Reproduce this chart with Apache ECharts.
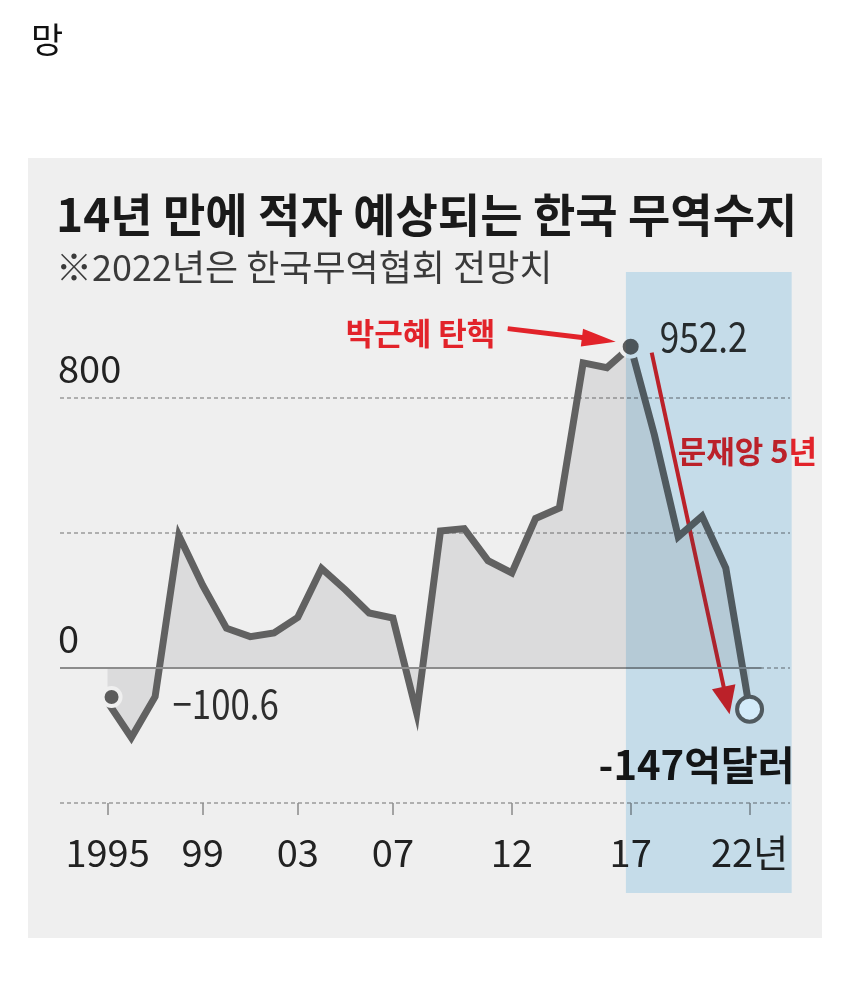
<!DOCTYPE html>
<html>
<head>
<meta charset="utf-8">
<script src="https://cdn.jsdelivr.net/npm/echarts@6/dist/echarts.min.js"></script>
<style>
  html, body { margin: 0; padding: 0; background: #ffffff; }
  #chart { width: 850px; height: 1007px; }
</style>
</head>
<body>
<div id="chart"></div>
<script>
// 한국 무역수지 (억달러), 1995~2022
const years = [1995, 1996, 1997, 1998, 1999, 2000, 2001, 2002, 2003, 2004, 2005, 2006, 2007, 2008,
  2009, 2010, 2011, 2012, 2013, 2014, 2015, 2016, 2017, 2018, 2019, 2020, 2021, 2022];
const balance = [-100.6, -206, -85, 392, 245, 118, 93, 104, 150, 295, 232, 163, 148, -133,
  406, 413, 318, 282, 443, 474, 904, 890, 952.2, 690, 389, 450, 296, -122];
const tickYears = [1995, 1999, 2003, 2007, 2012, 2017, 2022];
const tickLabels = ["1995", "99", "03", "07", "12", "17", "22년"];
const yLabelValues = [0, 800];

const topNote = "망";
const titleText = "14년 만에 적자 예상되는 한국 무역수지";
const subtitleText = "※2022년은 한국무역협회 전망치";
const noteImpeach = "박근혜 탄핵";
const noteMoon = "문재앙 5년";
const labelPeak = "952.2";
const labelStart = "−100.6";
const labelEnd = "-147억달러";

const KR = "'Noto Sans CJK KR', sans-serif";
const NARROW = "'Liberation Sans Narrow', 'Noto Sans CJK KR', sans-serif";
const PANEL = "#efefef";
const LINE = "#616161";
const RED = "#e2232a";

const startIdx = 0;
const peakIdx = years.indexOf(2017);
const endIdx = years.length - 1;

const seriesData = years.map((year, i) => {
  const item = { value: [year, balance[i]] };
  if (i === startIdx) {
    item.symbol = "circle";
    item.symbolSize = 18;
    item.symbolOffset = [4, -5];
    item.itemStyle = { color: "#5c5c5c", borderColor: PANEL, borderWidth: 4 };
  } else if (i === peakIdx) {
    item.symbol = "circle";
    item.symbolSize = 20;
    item.itemStyle = { color: "#5c5c5c", borderColor: PANEL, borderWidth: 4 };
  } else if (i === endIdx) {
    item.symbol = "circle";
    item.symbolSize = 25;
    item.itemStyle = { color: "#ffffff", borderColor: LINE, borderWidth: 4 };
  }
  return item;
});

const chart = echarts.init(document.getElementById("chart"), null, { renderer: "canvas" });

chart.setOption({
  animation: false,
  backgroundColor: "#ffffff",
  title: [
    {
      text: topNote, left: 31, top: 22, padding: 0,
      textStyle: { fontFamily: KR, fontSize: 35, fontWeight: "normal", color: "#111111" },
    },
    {
      text: titleText, left: 56, top: 192, padding: 0,
      textStyle: { fontFamily: KR, fontSize: 46, fontWeight: "bold", color: "#1a1a1a" },
    },
    {
      text: subtitleText, left: 56, top: 249, padding: 0,
      textStyle: { fontFamily: KR, fontSize: 36, fontWeight: "normal", color: "#3a3a3a" },
    },
  ],
  grid: { left: 60, right: 60, top: 398, bottom: 204 },
  xAxis: {
    type: "value",
    min: 1993,
    max: 2023.7,
    axisLine: { show: false, onZero: false },
    splitLine: { show: false },
    axisTick: {
      show: true,
      customValues: tickYears,
      length: 12,
      lineStyle: { color: "#8a8a8a", width: 1.5 },
    },
    axisLabel: {
      customValues: tickYears,
      margin: 31,
      fontFamily: NARROW,
      fontSize: 38,
      color: "#222222",
      formatter: (v) => tickLabels[tickYears.indexOf(Math.round(v))] || "",
    },
  },
  yAxis: {
    type: "value",
    min: -400,
    max: 800,
    interval: 400,
    axisLine: { show: false },
    axisTick: { show: false },
    splitLine: { lineStyle: { type: [4, 3], color: "#9a9a9a", width: 1.5 } },
    axisLabel: {
      customValues: yLabelValues,
      inside: true,
      margin: -2,
      verticalAlign: "bottom",
      padding: [0, 0, 10, 0],
      fontFamily: NARROW,
      fontSize: 38,
      color: "#222222",
    },
  },
  series: [
    {
      name: "zero",
      type: "line",
      z: 2,
      silent: true,
      symbol: "none",
      lineStyle: { opacity: 0 },
      data: [[years[0], 0]],
      markLine: {
        silent: true,
        symbol: "none",
        label: { show: false },
        lineStyle: { type: "solid", color: "#8c8c8c", width: 2 },
        data: [[{ coord: [1993, 0] }, { coord: [2022.5, 0] }]],
      },
    },
    {
      name: "무역수지",
      type: "line",
      z: 3,
      clip: false,
      silent: true,
      symbol: "none",
      showSymbol: true,
      lineStyle: { color: LINE, width: 7, join: "miter" },
      areaStyle: { color: "rgba(70,70,80,0.16)", origin: 0 },
      data: seriesData,
    },
  ],
});

function px(x, y) {
  return chart.convertToPixel({ gridIndex: 0 }, [x, y]);
}

function arrow(start, tip, headLen, headHalf, width) {
  const dx = tip[0] - start[0];
  const dy = tip[1] - start[1];
  const len = Math.hypot(dx, dy);
  const ux = dx / len;
  const uy = dy / len;
  const bx = tip[0] - ux * headLen;
  const by = tip[1] - uy * headLen;
  return {
    type: "group",
    z: 50,
    children: [
      {
        type: "line",
        shape: { x1: start[0], y1: start[1], x2: bx + ux * 2, y2: by + uy * 2 },
        style: { stroke: RED, lineWidth: width },
      },
      {
        type: "polygon",
        shape: {
          points: [
            [tip[0], tip[1]],
            [bx - uy * headHalf, by + ux * headHalf],
            [bx + uy * headHalf, by - ux * headHalf],
          ],
        },
        style: { fill: RED },
      },
    ],
  };
}

// narrow number labels: scaled horizontally around their anchor
function label(text, x, y, font, fill, align, sx) {
  return {
    type: "text", z: 40, silent: true,
    x: x, y: y, scaleX: sx,
    style: { text: text, x: 0, y: 0, font: font, fill: fill, textAlign: align, textVerticalAlign: "middle" },
  };
}

const pStart = px(years[startIdx], balance[startIdx]);
const pPeak = px(years[peakIdx], balance[peakIdx]);
const pEnd = px(years[endIdx], balance[endIdx]);
const bandL = px(2016.8, 0)[0];
const bandR = px(2023.77, 0)[0];

chart.setOption({
  graphic: [
    {
      type: "rect", z: -10, silent: true,
      shape: { x: 28, y: 158, width: 794, height: 780 },
      style: { fill: PANEL },
    },
    label(labelPeak, pPeak[0] + 29, pPeak[1] - 10, "40px " + NARROW, "#2e2e2e", "left", 0.88),
    label(labelStart, pStart[0] + 65, pStart[1] + 2, "40px " + NARROW, "#2e2e2e", "left", 0.87),
    label(labelEnd, pEnd[0] + 45, pEnd[1] + 56, "bold 40px " + NARROW, "#161616", "right", 1),
    label(noteImpeach, pPeak[0] - 285, pPeak[1] - 13, "bold 31px " + KR, RED, "left", 1),
    label(noteMoon, pPeak[0] + 47, pPeak[1] + 105, "bold 31px " + KR, RED, "left", 1),
    arrow([pPeak[0] - 123, pPeak[1] - 18], [pPeak[0] - 15, pPeak[1] - 5], 34, 9, 5),
    arrow([pPeak[0] + 21, pPeak[1] + 6], [pEnd[0] - 20, pEnd[1] + 5], 28, 12, 4),
    {
      type: "rect", z: 100, silent: true,
      shape: { x: bandL, y: 272, width: bandR - bandL, height: 621 },
      style: { fill: "#d3ebf9", blend: "multiply" },
    },
  ],
});
</script>
</body>
</html>
